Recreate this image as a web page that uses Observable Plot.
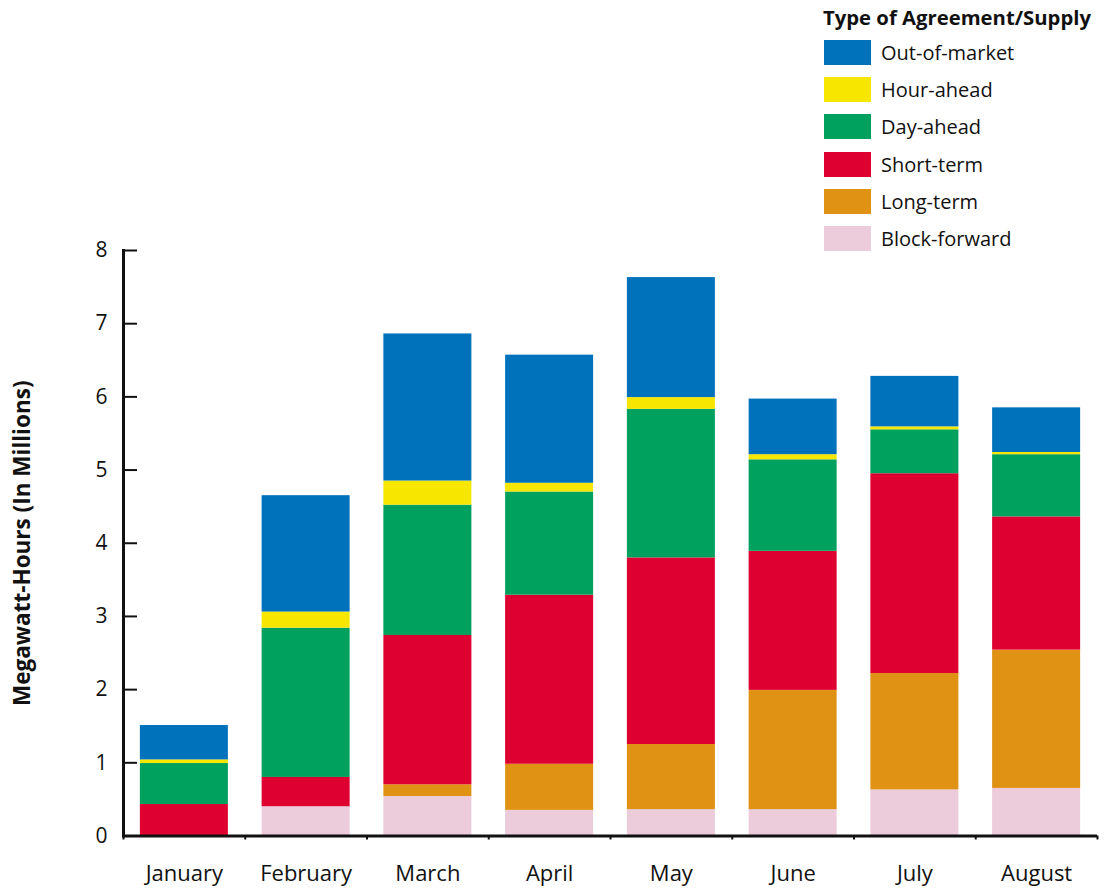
<!DOCTYPE html>
<html>
<head>
<meta charset="utf-8">
<script src="https://cdn.jsdelivr.net/npm/d3@7"></script>
<script src="https://cdn.jsdelivr.net/npm/@observablehq/plot@0.6"></script>
<style>
  body { margin: 0; background: #fff; font-family: "Open Sans", sans-serif; }
  #wrap { position: relative; width: 1105px; height: 890px; }
  #legend { position: absolute; left: 823px; top: 0; color: #111; }
  #legend .title { position: absolute; left: 0; top: 3px; white-space: nowrap; font-weight: 700; font-size: 20.3px; }
  #legend .row { position: absolute; left: 1px; white-space: nowrap; height: 25px; display: flex; align-items: center; }
  #legend .sw { width: 47px; height: 25px; margin-right: 10px; }
  #legend .lab { font-size: 20px; line-height: 25px; }
</style>
</head>
<body>
<div id="wrap">
  <div id="chart"></div>
  <div id="legend"></div>
</div>
<script>
// Months on the x axis
const months = ["January", "February", "March", "April", "May", "June", "July", "August"];

// Energy by type of agreement/supply, millions of MWh
const blockForward = [0.00, 0.40, 0.54, 0.35, 0.36, 0.36, 0.63, 0.65];
const longTerm     = [0.00, 0.00, 0.16, 0.63, 0.89, 1.63, 1.59, 1.89];
const shortTerm    = [0.43, 0.40, 2.04, 2.31, 2.55, 1.90, 2.73, 1.82];
const dayAhead     = [0.56, 2.04, 1.78, 1.41, 2.03, 1.25, 0.60, 0.85];
const hourAhead    = [0.05, 0.22, 0.33, 0.12, 0.16, 0.07, 0.04, 0.03];
const outOfMarket  = [0.47, 1.59, 2.01, 1.75, 1.64, 0.76, 0.69, 0.61];

// Stacking order, bottom to top
const types = ["Block-forward", "Long-term", "Short-term", "Day-ahead", "Hour-ahead", "Out-of-market"];
const colors = ["#ECCBDB", "#DF9214", "#DF0032", "#00A05E", "#F7E600", "#0072BC"];
const series = [blockForward, longTerm, shortTerm, dayAhead, hourAhead, outOfMarket];

const yTicks = [0, 1, 2, 3, 4, 5, 6, 7, 8];

const rows = [];
types.forEach((type, i) => {
  months.forEach((month, j) => rows.push({month, type, value: series[i][j]}));
});

const W = 1105, H = 890;
const mL = 123, mR = 8, mT = 250, mB = 54.5;
const step = (W - mL - mR) / months.length;

const chart = Plot.plot({
  width: W,
  height: H,
  marginLeft: mL,
  marginRight: mR,
  marginTop: mT,
  marginBottom: mB,
  style: {fontFamily: "'Open Sans', sans-serif", color: "#111", background: "#fff"},
  x: {domain: months, paddingInner: 0.2772, paddingOuter: 0.1386, round: false, label: null},
  y: {domain: [0, 8], label: null},
  color: {domain: types, range: colors},
  marks: [
    Plot.barY(rows, {x: "month", y: "value", fill: "type", order: types}),
    // y axis: labels, then inward ticks
    Plot.axisY({ticks: yTicks, tickSize: 0, tickPadding: 16, fontSize: 21, label: null}),
    Plot.axisY({ticks: yTicks, tickSize: -14, tickFormat: () => "", strokeWidth: 2, label: null}),
    // x axis labels
    Plot.axisX({tickSize: 0, tickPadding: 29, fontSize: 22, label: null}),
    // axis lines
    Plot.ruleY([0], {strokeWidth: 3, stroke: "#111"}),
    Plot.frame({anchor: "left", strokeWidth: 3, stroke: "#111"}),
    // small marks at category boundaries
    Plot.ruleX(months, {x: d => d, y1: 0, y2: 0, insetBottom: -4, dx: -step / 2, strokeWidth: 2, stroke: "#111"}),
    Plot.ruleX(months.slice(-1), {x: d => d, y1: 0, y2: 0, insetBottom: -4, dx: step / 2, strokeWidth: 2, stroke: "#111"}),
    // y axis title
    Plot.text(["Megawatt-Hours (In Millions)"], {
      frameAnchor: "left", dx: -101, rotate: -90, text: d => d,
      fontSize: 22.5, fontWeight: 700, textAnchor: "middle", lineAnchor: "middle", fill: "#111"
    })
  ]
});
document.getElementById("chart").appendChild(chart);

// Legend, top entry first
const legend = document.getElementById("legend");
const title = document.createElement("div");
title.className = "title";
title.textContent = "Type of Agreement/Supply";
legend.appendChild(title);
const rowTops = [40, 77, 114, 152, 189, 226];
types.slice().reverse().forEach((type, k) => {
  const row = document.createElement("div");
  row.className = "row";
  row.style.top = rowTops[k] + "px";
  const sw = document.createElement("div");
  sw.className = "sw";
  sw.style.background = colors[types.indexOf(type)];
  const lab = document.createElement("span");
  lab.className = "lab";
  lab.textContent = type;
  row.appendChild(sw);
  row.appendChild(lab);
  legend.appendChild(row);
});
</script>
</body>
</html>
